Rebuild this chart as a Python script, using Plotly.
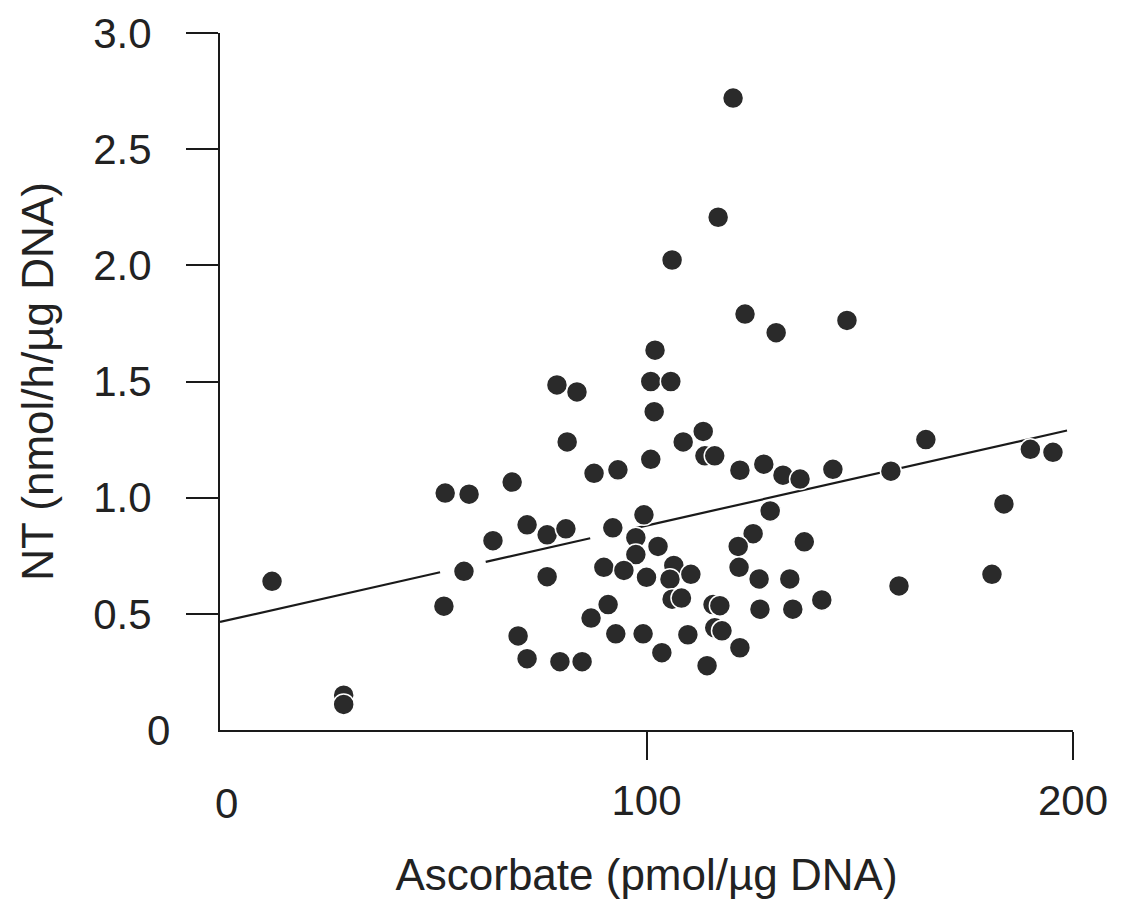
import plotly.graph_objects as go

# Ascorbate (pmol/µg DNA)
ascorbate = [12.2, 29.0, 29.0, 52.8, 58.4, 68.5, 52.5, 57.2, 64.0, 72.0,
             76.7, 81.1, 76.7, 69.9, 72.0, 79.7, 84.9, 79.0, 83.7, 81.4,
             87.7, 93.3, 101.0, 102.0, 101.0, 105.7, 101.8, 108.6, 113.3, 113.7,
             116.0, 106.0, 116.8, 120.3, 123.1, 130.4, 147.0, 121.9, 127.5, 132.0,
             136.0, 143.7, 157.3, 165.5, 190.0, 195.3, 183.8, 129.0, 125.0, 121.5,
             137.0, 121.7, 126.4, 133.6, 159.2, 181.0, 141.1, 126.6, 134.3, 121.9,
             99.4, 92.1, 97.5, 102.7, 97.5, 90.0, 94.7, 100.0, 106.4, 110.4,
             105.5, 106.0, 108.2, 115.6, 117.2, 116.0, 117.7, 109.7, 91.0, 87.0,
             92.8, 99.2, 103.6, 114.2]

# NT (nmol/h/µg DNA)
nt = [0.64, 0.15, 0.11, 1.02, 1.015, 1.067, 0.533, 0.683, 0.815, 0.883,
      0.84, 0.866, 0.66, 0.405, 0.307, 0.294, 0.294, 1.485, 1.455, 1.24,
      1.105, 1.12, 1.165, 1.635, 1.50, 1.50, 1.37, 1.24, 1.285, 1.18,
      1.18, 2.023, 2.207, 2.72, 1.79, 1.71, 1.763, 1.118, 1.144, 1.097,
      1.08, 1.122, 1.114, 1.25, 1.208, 1.195, 0.973, 0.943, 0.845, 0.79,
      0.81, 0.70, 0.65, 0.65, 0.62, 0.67, 0.56, 0.52, 0.52, 0.354,
      0.926, 0.87, 0.828, 0.79, 0.755, 0.70, 0.687, 0.657, 0.708, 0.67,
      0.649, 0.563, 0.568, 0.54, 0.535, 0.44, 0.427, 0.41, 0.54, 0.482,
      0.414, 0.414, 0.333, 0.277]

# regression line (intercept, slope) and its visible x-segments
fit_intercept = 0.465
fit_slope = 0.004149
fit_segments = [[0.0, 51.6], [62.3, 86.8], [97.4, 198.6]]

x_tickvals = [100, 200]
x_ticktext = ["100", "200"]
y_tickvals = [0.5, 1.0, 1.5, 2.0, 2.5, 3.0]
y_ticktext = ["0.5", "1.0", "1.5", "2.0", "2.5", "3.0"]

FONT = "Liberation Sans, Arial, Helvetica, sans-serif"
INK = "#222222"

line_x, line_y = [], []
for a, b in fit_segments:
    line_x += [a, b, None]
    line_y += [fit_intercept + fit_slope * a, fit_intercept + fit_slope * b, None]

fig = go.Figure()
fig.add_trace(go.Scatter(x=line_x, y=line_y, mode="lines",
                         line=dict(color="#1a1a1a", width=2.2),
                         hoverinfo="skip", showlegend=False))
fig.add_trace(go.Scatter(x=ascorbate, y=nt, mode="markers",
                         marker=dict(size=21, color="#2a2a2a",
                                     line=dict(color="white", width=1.5)),
                         showlegend=False))

fig.update_layout(
    width=1107, height=891, autosize=False,
    margin=dict(l=212, r=42, t=25, b=169, autoexpand=False),
    paper_bgcolor="white", plot_bgcolor="white",
    font=dict(family=FONT, color=INK),
    xaxis=dict(range=[0, 200], showgrid=False, zeroline=False, automargin=False,
               showline=True, linecolor="#1a1a1a", linewidth=2,
               ticks="outside", ticklen=28, tickwidth=2, tickcolor="#1a1a1a",
               tickvals=x_tickvals, ticktext=x_ticktext,
               tickfont=dict(size=42, family=FONT, color=INK),
               ticklabelstandoff=5, ticklabeloverflow="allow",
               title=dict(text="Ascorbate (pmol/µg DNA)",
                          font=dict(size=44, family=FONT, color=INK),
                          standoff=38)),
    yaxis=dict(range=[0, 3.0], showgrid=False, zeroline=False, automargin=False,
               showline=True, linecolor="#1a1a1a", linewidth=2,
               ticks="outside", ticklen=32, tickwidth=2, tickcolor="#1a1a1a",
               tickvals=y_tickvals, ticktext=y_ticktext,
               tickfont=dict(size=42, family=FONT, color=INK),
               ticklabelstandoff=26, ticklabeloverflow="allow",
               title=dict(text="NT (nmol/h/µg DNA)",
                          font=dict(size=44, family=FONT, color=INK),
                          standoff=26)),
)

# zero labels (no tick marks at the origin in the original)
fig.add_annotation(x=0, y=0, xref="paper", yref="y", text="0", showarrow=False,
                   xanchor="right", yanchor="middle", xshift=-48,
                   font=dict(size=42, family=FONT, color=INK))
fig.add_annotation(x=0, y=0, xref="x", yref="paper", text="0", showarrow=False,
                   xanchor="center", yanchor="top", yshift=-48, xshift=6,
                   font=dict(size=42, family=FONT, color=INK))

fig.write_html("out.html")
